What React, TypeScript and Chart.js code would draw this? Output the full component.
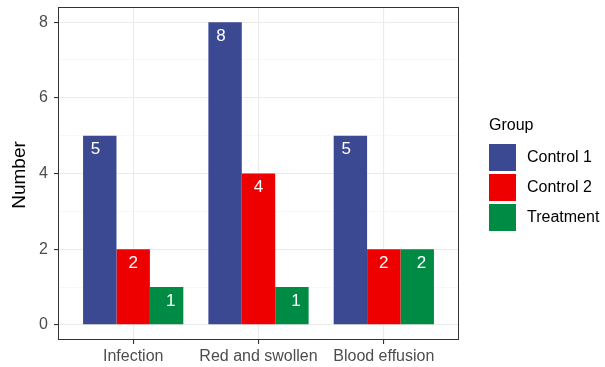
import React, { useEffect, useRef } from 'react';
import { Chart, registerables } from 'chart.js';
Chart.register(...registerables);

const categories = ['Infection', 'Red and swollen', 'Blood effusion'];
const groups = ['Control 1', 'Control 2', 'Treatment'];
const control1 = [5, 8, 5];
const control2 = [2, 4, 2];
const treatment = [1, 1, 2];
const yTicks = [0, 2, 4, 6, 8];
const yMinorTicks = [1, 3, 5, 7];
const seriesValues = [control1, control2, treatment];
const colors = ['#3B4992', '#EE0000', '#008B45'];

const FONT = "'Liberation Sans', Arial, Helvetica, sans-serif";

const labelPlugin = {
  id: 'barLabels',
  afterDatasetsDraw(chart: any) {
    const ctx = chart.ctx;
    const xs = chart.scales.x;
    const n = chart.data.datasets.length;
    ctx.save();
    ctx.fillStyle = '#FFFFFF';
    ctx.font = `17px ${FONT}`;
    ctx.textAlign = 'center';
    ctx.textBaseline = 'middle';
    chart.data.datasets.forEach((ds: any, i: number) => {
      const meta = chart.getDatasetMeta(i);
      meta.data.forEach((el: any, j: number) => {
        const v = ds.data[j].y;
        const x = xs.getPixelForValue(ds.data[j].x + (i - (n - 1) / 2) * 0.3);
        ctx.fillText(String(v), x, el.y + 14);
      });
    });
    ctx.restore();
  },
};

const framePlugin = {
  id: 'frame',
  afterDraw(chart: any) {
    const { ctx, chartArea } = chart;
    ctx.save();
    ctx.strokeStyle = '#333333';
    ctx.lineWidth = 1;
    ctx.strokeRect(
      Math.round(chartArea.left) + 0.5,
      Math.round(chartArea.top) + 0.5,
      Math.round(chartArea.right - chartArea.left) - 1,
      Math.round(chartArea.bottom - chartArea.top) - 1
    );
    // y axis title
    ctx.fillStyle = '#000000';
    ctx.font = `19px ${FONT}`;
    ctx.textAlign = 'center';
    ctx.textBaseline = 'middle';
    ctx.translate(20, 175);
    ctx.rotate(-Math.PI / 2);
    ctx.fillText('Number', 0, 0);
    ctx.restore();

    // legend
    ctx.save();
    ctx.fillStyle = '#000000';
    ctx.font = `16px ${FONT}`;
    ctx.textAlign = 'left';
    ctx.textBaseline = 'middle';
    ctx.fillText('Group', 489, 126);
    chart.data.datasets.forEach((ds: any, i: number) => {
      const top = 144 + i * 30;
      ctx.fillStyle = ds.backgroundColor;
      ctx.fillRect(489, top, 27, 27);
      ctx.fillStyle = '#000000';
      ctx.font = `16px ${FONT}`;
      ctx.fillText(ds.label, 527, top + 14);
    });
    ctx.restore();
  },
};

export default function App() {
  const ref = useRef<HTMLCanvasElement>(null);
  useEffect(() => {
    document.body.style.margin = '0';
    const canvas = ref.current!;
    const chart = new Chart(canvas, {
      type: 'bar',
      data: {
        datasets: groups.map((g, i) => ({
          label: g,
          data: seriesValues[i].map((v, j) => ({ x: j + 1, y: v })),
          backgroundColor: colors[i],
          borderWidth: 0,
          categoryPercentage: 0.8,
          barPercentage: 1.0,
        })),
      },
      options: {
        responsive: false,
        animation: false,
        maintainAspectRatio: false,
        layout: { padding: { top: 7, right: 146, left: 0, bottom: 0 } },
        plugins: {
          legend: { display: false },
          tooltip: { enabled: false },
        },
        scales: {
          x: {
            type: 'linear',
            min: 0.4,
            max: 3.6,
            offset: false,
            afterBuildTicks: (s: any) => {
              s.ticks = categories.map((_, i) => ({ value: i + 1 }));
            },
            afterFit: (s: any) => {
              s.height = 27;
              s.paddingLeft = 0;
              s.paddingRight = 0;
            },
            ticks: {
              autoSkip: false,
              maxRotation: 0,
              padding: 3,
              color: '#4D4D4D',
              font: { family: FONT, size: 16 },
              callback: (v: any) => categories[Math.round(v) - 1] ?? '',
            },
            grid: {
              offset: false,
              color: '#EBEBEB',
              lineWidth: 1.1,
              tickLength: 4,
              tickColor: '#333333',
              tickWidth: 1.1,
            },
            border: { display: false },
          },
          y: {
            type: 'linear',
            min: -0.4,
            max: 8.4,
            afterBuildTicks: (s: any) => {
              s.ticks = [...yTicks, ...yMinorTicks]
                .sort((a, b) => a - b)
                .map((v) => ({ value: v }));
            },
            afterFit: (s: any) => {
              s.width = 58;
              s.paddingTop = 0;
              s.paddingBottom = 0;
            },
            ticks: {
              autoSkip: false,
              padding: 6,
              color: '#4D4D4D',
              font: { family: FONT, size: 16 },
              callback: (v: any) => (yTicks.includes(v) ? String(v) : ''),
            },
            grid: {
              color: (c: any) => (yTicks.includes(c.tick?.value) ? '#EBEBEB' : '#F4F4F4'),
              lineWidth: (c: any) => (yTicks.includes(c.tick?.value) ? 1.1 : 0.6),
              tickLength: 4,
              tickColor: (c: any) => (yTicks.includes(c.tick?.value) ? '#333333' : 'rgba(0,0,0,0)'),
              tickWidth: 1.1,
            },
            border: { display: false },
          },
        },
      },
      plugins: [labelPlugin, framePlugin],
    } as any);
    return () => chart.destroy();
  }, []);
  return (
    <div style={{ width: 605, height: 367, background: '#FFFFFF' }}>
      <canvas ref={ref} width={605} height={367} style={{ display: 'block' }} />
    </div>
  );
}
